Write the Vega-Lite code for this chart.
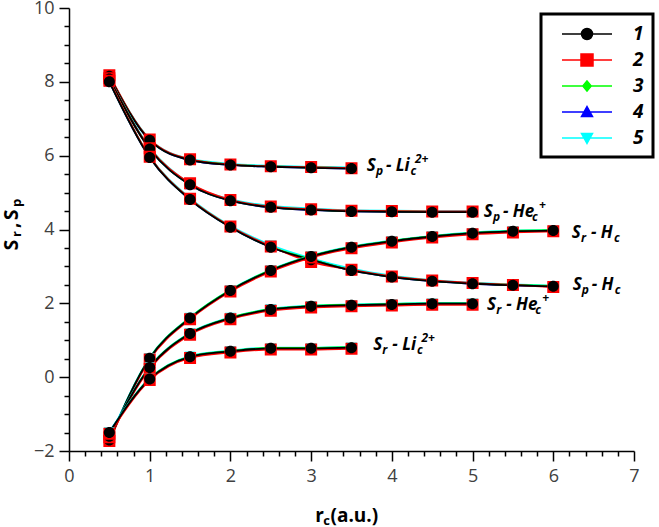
{
  "$schema": "https://vega.github.io/schema/vega-lite/v6.json",
  "width": 565,
  "height": 443,
  "autosize": {"type": "none"},
  "padding": {"left": 69, "top": 8, "right": 25, "bottom": 76},
  "background": "white",
  "config": {
    "view": {"stroke": null},
    "font": "Open Sans",
    "legend": {"strokeColor": "black", "strokeWidth": 3, "fillColor": "white"}
  },
  "datasets": {
    "curves": [
      {"c": "SpLi", "x": 0.5, "1": 8.15, "2": 8.18, "3": 8.16, "4": 8.15, "5": 8.17},
      {"c": "SpLi", "x": 1, "1": 6.42, "2": 6.44, "3": 6.43, "4": 6.42, "5": 6.45},
      {"c": "SpLi", "x": 1.5, "1": 5.88, "2": 5.9, "3": 5.89, "4": 5.88, "5": 5.91},
      {"c": "SpLi", "x": 2, "1": 5.75, "2": 5.76, "3": 5.76, "4": 5.75, "5": 5.78},
      {"c": "SpLi", "x": 2.5, "1": 5.7, "2": 5.71, "3": 5.71, "4": 5.7, "5": 5.73},
      {"c": "SpLi", "x": 3, "1": 5.67, "2": 5.69, "3": 5.68, "4": 5.67, "5": 5.7},
      {"c": "SpLi", "x": 3.5, "1": 5.65, "2": 5.66, "3": 5.66, "4": 5.65, "5": 5.68},
      {"c": "SpHe", "x": 0.5, "1": 8.08, "2": 8.1, "3": 8.09, "4": 8.08, "5": 8.1},
      {"c": "SpHe", "x": 1, "1": 6.18, "2": 6.2, "3": 6.19, "4": 6.18, "5": 6.22},
      {"c": "SpHe", "x": 1.5, "1": 5.21, "2": 5.25, "3": 5.22, "4": 5.21, "5": 5.24},
      {"c": "SpHe", "x": 2, "1": 4.78, "2": 4.8, "3": 4.79, "4": 4.78, "5": 4.82},
      {"c": "SpHe", "x": 2.5, "1": 4.6, "2": 4.62, "3": 4.61, "4": 4.6, "5": 4.64},
      {"c": "SpHe", "x": 3, "1": 4.53, "2": 4.55, "3": 4.54, "4": 4.53, "5": 4.57},
      {"c": "SpHe", "x": 3.5, "1": 4.49, "2": 4.51, "3": 4.5, "4": 4.49, "5": 4.52},
      {"c": "SpHe", "x": 4, "1": 4.48, "2": 4.5, "3": 4.49, "4": 4.48, "5": 4.51},
      {"c": "SpHe", "x": 4.5, "1": 4.47, "2": 4.49, "3": 4.48, "4": 4.47, "5": 4.5},
      {"c": "SpHe", "x": 5, "1": 4.47, "2": 4.49, "3": 4.48, "4": 4.47, "5": 4.5},
      {"c": "SpH", "x": 0.5, "1": 8.0, "2": 8.03, "3": 8.01, "4": 8.0, "5": 8.02},
      {"c": "SpH", "x": 1, "1": 5.95, "2": 5.97, "3": 5.96, "4": 5.95, "5": 5.98},
      {"c": "SpH", "x": 1.5, "1": 4.81, "2": 4.83, "3": 4.82, "4": 4.81, "5": 4.85},
      {"c": "SpH", "x": 2, "1": 4.06, "2": 4.08, "3": 4.07, "4": 4.06, "5": 4.1},
      {"c": "SpH", "x": 2.5, "1": 3.52, "2": 3.54, "3": 3.53, "4": 3.52, "5": 3.58},
      {"c": "SpH", "x": 3, "1": 3.18, "2": 3.12, "3": 3.19, "4": 3.18, "5": 3.22},
      {"c": "SpH", "x": 3.5, "1": 2.89, "2": 2.91, "3": 2.9, "4": 2.89, "5": 2.94},
      {"c": "SpH", "x": 4, "1": 2.71, "2": 2.73, "3": 2.72, "4": 2.71, "5": 2.75},
      {"c": "SpH", "x": 4.5, "1": 2.6, "2": 2.62, "3": 2.61, "4": 2.6, "5": 2.63},
      {"c": "SpH", "x": 5, "1": 2.53, "2": 2.55, "3": 2.54, "4": 2.53, "5": 2.56},
      {"c": "SpH", "x": 5.5, "1": 2.49, "2": 2.5, "3": 2.5, "4": 2.49, "5": 2.51},
      {"c": "SpH", "x": 6, "1": 2.46, "2": 2.44, "3": 2.47, "4": 2.46, "5": 2.48},
      {"c": "SrH", "x": 0.5, "1": -1.7, "2": -1.73, "3": -1.71, "4": -1.7, "5": -1.68},
      {"c": "SrH", "x": 1, "1": 0.51, "2": 0.48, "3": 0.52, "4": 0.51, "5": 0.53},
      {"c": "SrH", "x": 1.5, "1": 1.6, "2": 1.57, "3": 1.61, "4": 1.6, "5": 1.62},
      {"c": "SrH", "x": 2, "1": 2.35, "2": 2.32, "3": 2.36, "4": 2.35, "5": 2.37},
      {"c": "SrH", "x": 2.5, "1": 2.89, "2": 2.86, "3": 2.9, "4": 2.89, "5": 2.91},
      {"c": "SrH", "x": 3, "1": 3.27, "2": 3.24, "3": 3.28, "4": 3.27, "5": 3.29},
      {"c": "SrH", "x": 3.5, "1": 3.52, "2": 3.49, "3": 3.53, "4": 3.52, "5": 3.54},
      {"c": "SrH", "x": 4, "1": 3.68, "2": 3.65, "3": 3.69, "4": 3.68, "5": 3.7},
      {"c": "SrH", "x": 4.5, "1": 3.81, "2": 3.78, "3": 3.82, "4": 3.81, "5": 3.83},
      {"c": "SrH", "x": 5, "1": 3.9, "2": 3.87, "3": 3.91, "4": 3.9, "5": 3.92},
      {"c": "SrH", "x": 5.5, "1": 3.95, "2": 3.92, "3": 3.96, "4": 3.95, "5": 3.97},
      {"c": "SrH", "x": 6, "1": 3.97, "2": 3.95, "3": 3.98, "4": 3.97, "5": 3.99},
      {"c": "SrHe", "x": 0.5, "1": -1.6, "2": -1.63, "3": -1.61, "4": -1.6, "5": -1.58},
      {"c": "SrHe", "x": 1, "1": 0.26, "2": 0.23, "3": 0.27, "4": 0.26, "5": 0.28},
      {"c": "SrHe", "x": 1.5, "1": 1.18, "2": 1.15, "3": 1.19, "4": 1.18, "5": 1.2},
      {"c": "SrHe", "x": 2, "1": 1.6, "2": 1.57, "3": 1.61, "4": 1.6, "5": 1.62},
      {"c": "SrHe", "x": 2.5, "1": 1.83, "2": 1.8, "3": 1.84, "4": 1.83, "5": 1.85},
      {"c": "SrHe", "x": 3, "1": 1.92, "2": 1.89, "3": 1.93, "4": 1.92, "5": 1.94},
      {"c": "SrHe", "x": 3.5, "1": 1.95, "2": 1.92, "3": 1.96, "4": 1.95, "5": 1.97},
      {"c": "SrHe", "x": 4, "1": 1.97, "2": 1.94, "3": 1.98, "4": 1.97, "5": 1.99},
      {"c": "SrHe", "x": 4.5, "1": 1.99, "2": 1.96, "3": 2.0, "4": 1.99, "5": 2.01},
      {"c": "SrHe", "x": 5, "1": 1.99, "2": 1.96, "3": 2.0, "4": 1.99, "5": 2.01},
      {"c": "SrLi", "x": 0.5, "1": -1.5, "2": -1.53, "3": -1.51, "4": -1.5, "5": -1.48},
      {"c": "SrLi", "x": 1, "1": -0.05, "2": -0.08, "3": -0.04, "4": -0.05, "5": -0.03},
      {"c": "SrLi", "x": 1.5, "1": 0.55, "2": 0.52, "3": 0.56, "4": 0.55, "5": 0.57},
      {"c": "SrLi", "x": 2, "1": 0.7, "2": 0.67, "3": 0.71, "4": 0.7, "5": 0.72},
      {"c": "SrLi", "x": 2.5, "1": 0.78, "2": 0.75, "3": 0.79, "4": 0.78, "5": 0.8},
      {"c": "SrLi", "x": 3, "1": 0.78, "2": 0.75, "3": 0.79, "4": 0.78, "5": 0.8},
      {"c": "SrLi", "x": 3.5, "1": 0.8, "2": 0.77, "3": 0.81, "4": 0.8, "5": 0.82}
    ],
    "labels": [
      {"x": 3.69, "y": 5.73, "t": "S", "r": "m"},
      {"x": 3.802, "y": 5.73, "t": "p", "r": "s"},
      {"x": 3.926, "y": 5.73, "t": "- Li", "r": "m"},
      {"x": 4.23, "y": 5.73, "t": "c", "r": "s"},
      {"x": 4.286, "y": 5.73, "t": "2+", "r": "u"},
      {"x": 5.14, "y": 4.47, "t": "S", "r": "m"},
      {"x": 5.252, "y": 4.47, "t": "p", "r": "s"},
      {"x": 5.376, "y": 4.47, "t": "- He", "r": "m"},
      {"x": 5.736, "y": 4.47, "t": "c", "r": "s"},
      {"x": 5.822, "y": 4.47, "t": "+", "r": "u"},
      {"x": 6.23, "y": 3.9, "t": "S", "r": "m"},
      {"x": 6.342, "y": 3.9, "t": "r", "r": "s"},
      {"x": 6.466, "y": 3.9, "t": "- H", "r": "m"},
      {"x": 6.751, "y": 3.9, "t": "c", "r": "s"},
      {"x": 6.24, "y": 2.49, "t": "S", "r": "m"},
      {"x": 6.352, "y": 2.49, "t": "p", "r": "s"},
      {"x": 6.476, "y": 2.49, "t": "- H", "r": "m"},
      {"x": 6.761, "y": 2.49, "t": "c", "r": "s"},
      {"x": 5.18, "y": 1.95, "t": "S", "r": "m"},
      {"x": 5.292, "y": 1.95, "t": "r", "r": "s"},
      {"x": 5.416, "y": 1.95, "t": "- He", "r": "m"},
      {"x": 5.776, "y": 1.95, "t": "c", "r": "s"},
      {"x": 5.862, "y": 1.95, "t": "+", "r": "u"},
      {"x": 3.77, "y": 0.86, "t": "S", "r": "m"},
      {"x": 3.882, "y": 0.86, "t": "r", "r": "s"},
      {"x": 4.006, "y": 0.86, "t": "- Li", "r": "m"},
      {"x": 4.31, "y": 0.86, "t": "c", "r": "s"},
      {"x": 4.366, "y": 0.86, "t": "2+", "r": "u"},
      {"x": 3.05, "y": -3.92, "t": "r", "r": "xm"},
      {"x": 3.15, "y": -3.92, "t": "c", "r": "xs"},
      {"x": 3.24, "y": -3.92, "t": "(a.u.)", "r": "xm"},
      {"x": -0.71, "y": 3.44, "t": "S", "r": "ym"},
      {"x": -0.71, "y": 3.8, "t": "r", "r": "ys"},
      {"x": -0.71, "y": 4.04, "t": ",", "r": "ym"},
      {"x": -0.71, "y": 4.26, "t": "S", "r": "ym"},
      {"x": -0.71, "y": 4.61, "t": "p", "r": "ys"}
    ]
  },
  "encoding": {
    "x": {
      "field": "x", "type": "quantitative",
      "scale": {"domain": [0, 7], "nice": false, "zero": false},
      "axis": {
        "title": null, "grid": false, "format": "~g",
        "values": [0, 0.2, 0.4, 0.6, 0.8, 1, 1.2, 1.4, 1.6, 1.8, 2, 2.2, 2.4, 2.6, 2.8, 3, 3.2, 3.4, 3.6, 3.8, 4, 4.2, 4.4, 4.6, 4.8, 5, 5.2, 5.4, 5.6, 5.8, 6, 6.2, 6.4, 6.6, 6.8, 7],
        "labelExpr": "datum.value % 1 === 0 ? datum.label : ''",
        "tickSize": {"condition": {"test": "datum.value % 1 === 0", "value": 10}, "value": 5},
        "domainColor": "black", "domainWidth": 1.5,
        "tickColor": "black", "tickWidth": 1.5,
        "labelFont": "Open Sans", "labelFontSize": 18, "labelColor": "#404040",
        "labelPadding": 6, "labelFlush": false, "labelOverlap": false
      }
    },
    "y": {
      "field": "y", "type": "quantitative",
      "scale": {"domain": [-2, 10], "nice": false, "zero": false},
      "axis": {
        "title": null, "grid": false, "format": "~g",
        "values": [-2, -1.5, -1, -0.5, 0, 0.5, 1, 1.5, 2, 2.5, 3, 3.5, 4, 4.5, 5, 5.5, 6, 6.5, 7, 7.5, 8, 8.5, 9, 9.5, 10],
        "labelExpr": "datum.value % 2 === 0 ? datum.label : ''",
        "tickSize": {"condition": {"test": "datum.value % 2 === 0", "value": 10}, "value": 5},
        "domainColor": "black", "domainWidth": 1.5,
        "tickColor": "black", "tickWidth": 1.5,
        "labelFont": "Open Sans", "labelFontSize": 18, "labelColor": "#404040",
        "labelPadding": 5, "labelFlush": false, "labelOverlap": false
      }
    }
  },
  "layer": [
    {
      "data": {"name": "curves"},
      "transform": [{"fold": ["5", "4", "3", "2", "1"], "as": ["series", "y"]}],
      "mark": {"type": "line", "interpolate": "monotone", "strokeWidth": 1.8},
      "encoding": {
        "color": {
          "field": "series", "type": "nominal",
          "scale": {"domain": ["1", "2", "3", "4", "5"], "range": ["#000000", "#ff0000", "#00ff00", "#0000ff", "#00ffff"]},
          "legend": {
            "title": null, "orient": "none", "legendX": 472, "legendY": 6,
            "padding": 9, "symbolOffset": 26, "labelOffset": 35, "rowPadding": 5,
            "symbolSize": 400, "symbolStrokeWidth": 1.5,
            "labelFont": "Open Sans", "labelFontSize": 19, "labelFontWeight": "bold", "labelFontStyle": "italic", "labelColor": "black",
            "labelExpr": "datum.label + '\u00a0\u00a0'",
            "encode": {"symbols": {"update": {"stroke": {"scale": "color", "field": "value"}, "fill": {"scale": "color", "field": "value"}, "strokeWidth": {"value": 1.5}, "opacity": {"value": 1}}}}
          }
        },
        "detail": {"field": "c"}
      }
    },
    {
      "data": {"name": "curves"},
      "transform": [{"fold": ["5", "4", "3", "2", "1"], "as": ["series", "y"]}],
      "mark": {"type": "point", "filled": true, "opacity": 1, "size": 400, "strokeWidth": 0},
      "encoding": {
        "color": {
          "field": "series", "type": "nominal",
          "scale": {"domain": ["1", "2", "3", "4", "5"], "range": ["#000000", "#ff0000", "#00ff00", "#0000ff", "#00ffff"]},
          "legend": {
            "title": null, "orient": "none", "legendX": 472, "legendY": 6,
            "padding": 9, "symbolOffset": 26, "labelOffset": 35, "rowPadding": 5,
            "symbolSize": 400, "symbolStrokeWidth": 1.5,
            "labelFont": "Open Sans", "labelFontSize": 19, "labelFontWeight": "bold", "labelFontStyle": "italic", "labelColor": "black",
            "labelExpr": "datum.label + '\u00a0\u00a0'",
            "encode": {"symbols": {"update": {"stroke": {"scale": "color", "field": "value"}, "fill": {"scale": "color", "field": "value"}, "strokeWidth": {"value": 1.5}, "opacity": {"value": 1}}}}
          }
        },
        "shape": {
          "field": "series", "type": "nominal",
          "scale": {"domain": ["1", "2", "3", "4", "5"], "range": [
            "M-2.5,0H2.5M0.55,0A0.55,0.55,0,1,1,-0.55,0A0.55,0.55,0,1,1,0.55,0Z",
            "M-2.5,0H2.5M-0.6,-0.6H0.6V0.6H-0.6Z",
            "M-2.5,0H2.5M0,-0.5L0.42,0L0,0.5L-0.42,0Z",
            "M-2.5,0H2.5M0,-0.55L0.55,0.45H-0.55Z",
            "M-2.5,0H2.5M0,0.55L0.55,-0.45H-0.55Z"
          ]},
          "legend": {
            "title": null, "orient": "none", "legendX": 472, "legendY": 6,
            "padding": 9, "symbolOffset": 26, "labelOffset": 35, "rowPadding": 5,
            "symbolSize": 400, "symbolStrokeWidth": 1.5,
            "labelFont": "Open Sans", "labelFontSize": 19, "labelFontWeight": "bold", "labelFontStyle": "italic", "labelColor": "black",
            "labelExpr": "datum.label + '\u00a0\u00a0'",
            "encode": {"symbols": {"update": {"stroke": {"scale": "color", "field": "value"}, "fill": {"scale": "color", "field": "value"}, "strokeWidth": {"value": 1.5}, "opacity": {"value": 1}}}}
          }
        }
      }
    },
    {
      "data": {"name": "labels"},
      "transform": [{"filter": "datum.r === 'm'"}],
      "mark": {"type": "text", "align": "left", "baseline": "middle", "font": "Open Sans", "fontSize": 17, "fontWeight": "bold", "fontStyle": "italic", "color": "black"},
      "encoding": {"text": {"field": "t"}}
    },
    {
      "data": {"name": "labels"},
      "transform": [{"filter": "datum.r === 's'"}],
      "mark": {"type": "text", "align": "left", "baseline": "middle", "dy": 5, "font": "Open Sans", "fontSize": 12, "fontWeight": "bold", "fontStyle": "italic", "color": "black"},
      "encoding": {"text": {"field": "t"}}
    },
    {
      "data": {"name": "labels"},
      "transform": [{"filter": "datum.r === 'u'"}],
      "mark": {"type": "text", "align": "left", "baseline": "middle", "dy": -7, "font": "Open Sans", "fontSize": 12, "fontWeight": "bold", "fontStyle": "italic", "color": "black"},
      "encoding": {"text": {"field": "t"}}
    },
    {
      "data": {"name": "labels"},
      "transform": [{"filter": "datum.r === 'xm'"}],
      "mark": {"type": "text", "align": "left", "baseline": "alphabetic", "font": "Open Sans", "fontSize": 19, "fontWeight": "bold", "color": "black"},
      "encoding": {"text": {"field": "t"}}
    },
    {
      "data": {"name": "labels"},
      "transform": [{"filter": "datum.r === 'xs'"}],
      "mark": {"type": "text", "align": "left", "baseline": "alphabetic", "dy": 3, "font": "Open Sans", "fontSize": 13, "fontWeight": "bold", "color": "black"},
      "encoding": {"text": {"field": "t"}}
    },
    {
      "data": {"name": "labels"},
      "transform": [{"filter": "datum.r === 'ym'"}],
      "mark": {"type": "text", "align": "left", "baseline": "middle", "angle": 270, "font": "Open Sans", "fontSize": 19, "fontWeight": "bold", "color": "black"},
      "encoding": {"text": {"field": "t"}}
    },
    {
      "data": {"name": "labels"},
      "transform": [{"filter": "datum.r === 'ys'"}],
      "mark": {"type": "text", "align": "left", "baseline": "middle", "angle": 270, "dy": 5, "font": "Open Sans", "fontSize": 13, "fontWeight": "bold", "color": "black"},
      "encoding": {"text": {"field": "t"}}
    }
  ]
}
